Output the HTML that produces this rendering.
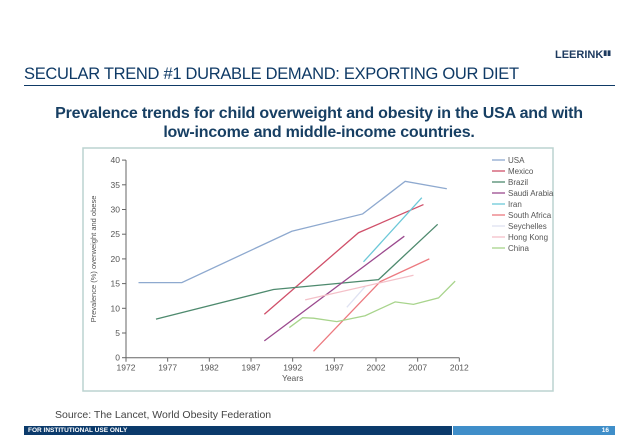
<!DOCTYPE html>
<html><head><meta charset="utf-8"><style>
body{margin:0;width:638px;height:442px;background:#fff;position:relative;overflow:hidden;font-family:"Liberation Sans",sans-serif}
.a{position:absolute}
</style></head><body>
<div class="a" style="left:555px;top:49px;font-size:11px;font-weight:bold;color:#1d3a5f">LEERINK<span style="font-size:7px;vertical-align:top">▮▮</span></div>
<div class="a" style="left:24px;top:65px;font-size:16.5px;color:#0f3a66;letter-spacing:-0.3px">SECULAR TREND #1 DURABLE DEMAND: EXPORTING OUR DIET</div>
<div class="a" style="left:24px;top:85px;width:591px;height:1px;background:#0f3a66"></div>
<div class="a" style="left:20px;top:104px;width:598px;text-align:center;font-size:16px;font-weight:bold;color:#173f63;line-height:19px;letter-spacing:-0.2px">Prevalence trends for child overweight and obesity in the USA and with<br>low-income and middle-income countries.</div>
<svg class="a" style="left:0;top:0" width="638" height="442">
<rect x="83" y="148" width="470" height="243" fill="#fff" stroke="#bcd3d0" stroke-width="1.5"/>
<g id="axes" font-family="Liberation Sans" font-size="8.5" fill="#555"></g>
<g id="series"></g>
<g id="legend" font-family="Liberation Sans" font-size="8" fill="#555"></g>
</svg>
<div class="a" style="left:55px;top:409px;font-size:10.5px;color:#444">Source: The Lancet, World Obesity Federation</div>
<div class="a" style="left:24px;top:426px;width:428px;height:9px;background:#0b3a6b;color:#fff;font-size:6.5px;font-weight:bold;line-height:9px;padding-left:4px;box-sizing:border-box">FOR INSTITUTIONAL USE ONLY</div>
<div class="a" style="left:453px;top:426px;width:162px;height:9px;background:#3f8ec9;color:#fff;font-size:6.5px;font-weight:bold;line-height:9px;text-align:right;padding-right:6px;box-sizing:border-box">16</div>
<script>
const xTicks=[1972,1977,1982,1987,1992,1997,2002,2007,2012];
const yTicks=[0,5,10,15,20,25,30,35,40];
const seriesNames=["USA","Mexico","Brazil","Saudi Arabia","Iran","South Africa","Seychelles","Hong Kong","China"];
const seriesColors=["#8ea9cf","#d0506a","#4e8a6e","#9b4a8e","#6cc8d8","#ec7a80","#dfe2f2","#f4c0c8","#a8d48c"];
const usaYears=[1973.5,1978.7,1991.9,2000.4,2005.5,2010.5];
const usaVals=[15.2,15.2,25.6,29.1,35.7,34.2];
const mexicoYears=[1988.6,1999.9,2007.7];
const mexicoVals=[8.8,25.3,31.0];
const brazilYears=[1975.6,1989.7,2002.3,2009.4];
const brazilVals=[7.8,13.8,15.8,27.0];
const saudiYears=[1988.6,2005.4];
const saudiVals=[3.4,24.6];
const iranYears=[2000.5,2007.5];
const iranVals=[19.4,32.4];
const saYears=[1994.5,2002.5,2008.4];
const saVals=[1.3,15.4,20.0];
const seyYears=[1998.5,2000.7];
const seyVals=[10.2,14.4];
const hkYears=[1993.5,2006.5];
const hkVals=[11.7,16.7];
const chinaYears=[1991.6,1993.2,1994.5,1997.3,2000.7,2004.3,2006.5,2009.5,2011.5];
const chinaVals=[6.1,8.1,8.0,7.3,8.5,11.3,10.8,12.1,15.5];
const allYears=[usaYears,mexicoYears,brazilYears,saudiYears,iranYears,saYears,seyYears,hkYears,chinaYears];
const allVals=[usaVals,mexicoVals,brazilVals,saudiVals,iranVals,saVals,seyVals,hkVals,chinaVals];
const NS="http://www.w3.org/2000/svg";
const X=y=>126+(y-1972)*8.333, Y=v=>357.7-v*4.94;
function mk(t,a,p){const e=document.createElementNS(NS,t);for(const k in a)e.setAttribute(k,a[k]);p.appendChild(e);return e;}
const ax=document.getElementById('axes');
let l=mk('line',{x1:126,y1:Y(40),x2:126,y2:Y(0),stroke:'#666','stroke-width':1},ax);


l=mk('line',{x1:126,y1:Y(0),x2:X(2012),y2:Y(0),stroke:'#666','stroke-width':1},ax);


yTicks.forEach(v=>{mk('line',{x1:122,x2:126,y1:Y(v),y2:Y(v),stroke:'#666'},ax);
const t=mk('text',{x:120,y:Y(v)+3,'text-anchor':'end'},ax);t.textContent=v;

});
xTicks.forEach(v=>{mk('line',{x1:X(v),x2:X(v),y1:Y(0),y2:Y(0)+4,stroke:'#666'},ax);
const t=mk('text',{x:X(v),y:Y(0)+13,'text-anchor':'middle'},ax);t.textContent=v;

});
let t=mk('text',{x:X(1992),y:381,'text-anchor':'middle'},ax);t.textContent='Years';


t=mk('text',{x:0,y:0,transform:'translate(96,259) rotate(-90)','text-anchor':'middle','font-size':'7.5'},ax);t.textContent='Prevalence (%) overweight and obese';


const sg=document.getElementById('series'),lg=document.getElementById('legend');
seriesNames.forEach((n,i)=>{
const p=mk('polyline',{points:allYears[i].map((yr,j)=>X(yr)+','+Y(allVals[i][j])).join(' '),fill:'none',stroke:seriesColors[i],'stroke-width':1.3},sg);


const ly=160+i*11;
mk('line',{x1:492,x2:505,y1:ly,y2:ly,stroke:seriesColors[i],'stroke-width':1.3},lg);
const lt=mk('text',{x:508,y:ly+3},lg);lt.textContent=n;


});
</script>
</body></html>
